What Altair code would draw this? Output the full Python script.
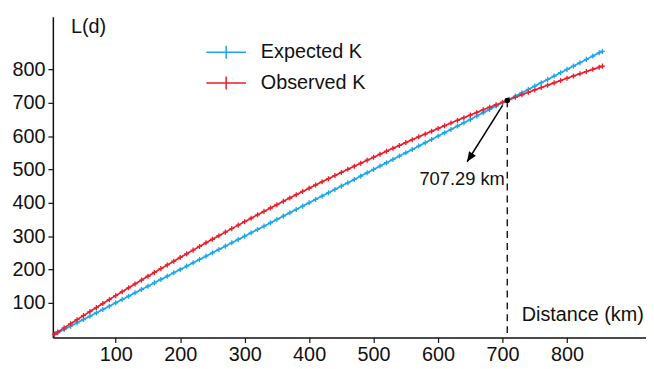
import altair as alt
import pandas as pd

# ---- data ----
distance = [5, 10, 20, 30, 40, 50, 60, 70, 80, 90, 100, 110, 120, 130, 140, 150, 160, 170, 180, 190,
            200, 210, 220, 230, 240, 250, 260, 270, 280, 290, 300, 310, 320, 330, 340, 350, 360, 370,
            380, 390, 400, 410, 420, 430, 440, 450, 460, 470, 480, 490, 500, 510, 520, 530, 540, 550,
            560, 570, 580, 590, 600, 610, 620, 630, 640, 650, 660, 670, 680, 690, 700, 710, 720, 730,
            740, 750, 760, 770, 780, 790, 800, 810, 820, 830, 840, 850, 855]
expected = [5, 10, 20, 30, 40, 50, 60, 70, 80, 90, 100, 110, 120, 130, 140, 150, 160, 170, 180, 190,
            200, 210, 220, 230, 240, 250, 260, 270, 280, 290, 300, 310, 320, 330, 340, 350, 360, 370,
            380, 390, 400, 410, 420, 430, 440, 450, 460, 470, 480, 490, 500, 510, 520, 530, 540, 550,
            560, 570, 580, 590, 600, 610, 620, 630, 640, 650, 660, 670, 680, 690, 700, 710, 720, 730,
            740, 750, 760, 770, 780, 790, 800, 810, 820, 830, 840, 850, 854]
observed = [6.2, 12.5, 24.9, 37.2, 49.5, 61.7, 73.8, 85.9, 97.8, 109.8, 121.6, 133.4, 145.1, 156.7,
            168.2, 179.7, 191.1, 202.5, 213.7, 224.9, 236.1, 247.1, 258.1, 269.0, 279.9, 290.6, 301.3,
            312.0, 322.5, 333.0, 343.4, 353.8, 364.0, 374.2, 384.4, 394.4, 404.4, 414.3, 424.2, 433.9,
            443.6, 453.3, 462.8, 472.3, 481.7, 491.1, 500.4, 509.6, 518.7, 527.8, 536.8, 545.7, 554.5,
            563.3, 572.0, 580.6, 589.2, 597.7, 606.1, 614.5, 622.7, 631.0, 639.1, 647.2, 655.1, 663.1,
            670.9, 678.7, 686.4, 694.0, 701.6, 709.1, 716.5, 723.9, 731.2, 738.4, 745.5, 752.6, 759.6,
            766.5, 773.4, 780.1, 786.9, 793.5, 800.1, 806.6, 809.8]
series_names = ["Expected K", "Observed K"]
series_colors = ["#1ba6ee", "#ee1d2a"]
x_ticks = [100, 200, 300, 400, 500, 600, 700, 800]
y_ticks = [100, 200, 300, 400, 500, 600, 700, 800]
cross_distance = 707.29
cross_value = 707.0
cross_label = "707.29 km"
arrow_from = [700, 692]
arrow_to = [645, 523]
label_at = [571, 454]

FONT = "Liberation Sans"

df = pd.DataFrame({
    "distance": distance * 2,
    "L": expected + observed,
    "series": [series_names[0]] * len(distance) + [series_names[1]] * len(distance),
})

xscale = alt.Scale(domain=[2.5, 922.5], nice=False, zero=False)
yscale = alt.Scale(domain=[-4, 958], nice=False, zero=False)

x_axis = alt.Axis(values=x_ticks, title="Distance (km)", titleX=473, titleY=-17.6,
                  titleAlign="left", titleBaseline="alphabetic", titleAngle=0,
                  labelFlush=False, labelPadding=2)
y_axis = alt.Axis(values=y_ticks, title="L(d)", titleX=17.7, titleY=15.7,
                  titleAlign="left", titleBaseline="alphabetic", titleAngle=0,
                  labelPadding=3)

color = alt.Color("series:N", scale=alt.Scale(domain=series_names, range=series_colors),
                  legend=alt.Legend(title=None, orient="none", legendX=154, legendY=15,
                                    symbolType="M-1,0H1M0,-0.33V0.33", symbolSize=1600,
                                    symbolStrokeWidth=1.5, symbolFillColor="transparent",
                                    labelFontSize=20, labelFont=FONT, labelColor="#111",
                                    labelOffset=14, rowPadding=-1, padding=0))

base = alt.Chart(df).encode(
    x=alt.X("distance:Q", scale=xscale, axis=x_axis),
    y=alt.Y("L:Q", scale=yscale, axis=y_axis),
    color=color,
)
lines = base.mark_line(strokeWidth=1.7)
marks = base.mark_point(shape="M-1,0H1M0,-1V1", size=26, filled=False, strokeWidth=1.3, opacity=1)

cross_df = pd.DataFrame({"d": [cross_distance], "L": [cross_value], "L0": [0]})
dash = alt.Chart(cross_df).mark_rule(color="black", strokeWidth=1.3, strokeDash=[7, 5]).encode(
    x=alt.X("d:Q", scale=xscale), y=alt.Y("L:Q", scale=yscale), y2="L0:Q")
dot = alt.Chart(cross_df).mark_point(filled=True, color="black", size=30, opacity=1).encode(
    x=alt.X("d:Q", scale=xscale), y=alt.Y("L:Q", scale=yscale))

arrow_df = pd.DataFrame({"d": [arrow_from[0], arrow_to[0]], "L": [arrow_from[1], arrow_to[1]], "o": [0, 1]})
arrow_line = alt.Chart(arrow_df).mark_line(color="black", strokeWidth=1.5).encode(
    x=alt.X("d:Q", scale=xscale), y=alt.Y("L:Q", scale=yscale), order="o:Q")
head_df = pd.DataFrame({"d": [arrow_to[0]], "L": [arrow_to[1]]})
arrow_head = alt.Chart(head_df).mark_point(shape="M0,0L-0.42,-1L0.42,-1Z", size=400, filled=True,
                                           color="black", opacity=1, angle=33).encode(
    x=alt.X("d:Q", scale=xscale), y=alt.Y("L:Q", scale=yscale))

label_df = pd.DataFrame({"d": [label_at[0]], "L": [label_at[1]], "t": [cross_label]})
label = alt.Chart(label_df).mark_text(align="left", baseline="alphabetic", fontSize=18.5,
                                      font=FONT, color="#111").encode(
    x=alt.X("d:Q", scale=xscale), y=alt.Y("L:Q", scale=yscale), text="t:N")

chart = alt.layer(lines, marks, dash, arrow_line, arrow_head, dot, label).properties(
    width=599, height=324,
    autosize=alt.AutoSizeParams(type="none"),
    padding={"left": 45.3, "top": 7, "right": 0, "bottom": 28},
).configure(font=FONT).configure_view(strokeWidth=0).configure_axis(
    grid=False, domainColor="#111", domainWidth=1.5, tickColor="#111", tickWidth=1.2,
    tickSize=5, labelFontSize=20, labelFont=FONT, labelColor="#111",
    titleFontSize=20, titleFont=FONT, titleFontWeight="normal", titleColor="#111",
)

chart.save("out.html", embed_options={"renderer": "svg", "actions": False})
